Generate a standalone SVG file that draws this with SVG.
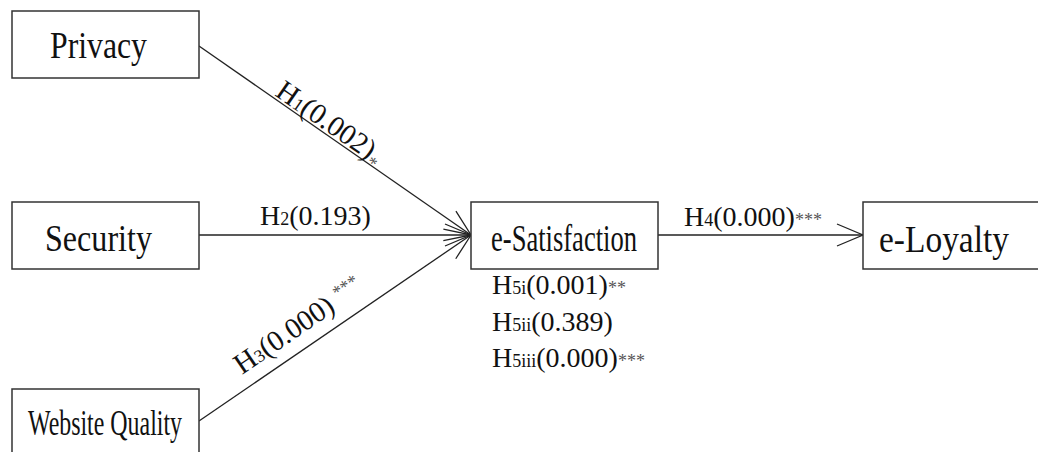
<svg xmlns="http://www.w3.org/2000/svg" width="1038" height="452" viewBox="0 0 1038 452">
<style>
.box{fill:#fff;stroke:#333;stroke-width:1.5}
.node{font-family:"Liberation Serif","Times New Roman",serif;fill:#111;font-size:38px}
.lbl{font-family:"Liberation Serif","Times New Roman",serif;fill:#111;font-size:28px}
.rot{font-size:29px}
.sub{font-size:18px}
.ast{font-size:18px;fill:#555}
.edge{stroke:#222;stroke-width:1.3;fill:none}
</style>
<defs>
<marker id="arr" markerUnits="userSpaceOnUse" markerWidth="40" markerHeight="30" viewBox="-30 -15 32 30" refX="0" refY="0" orient="auto">
<path d="M-26,-11 L0,0 L-26,11" fill="none" stroke="#222" stroke-width="1.3"/>
</marker>
</defs>
<rect width="1038" height="452" fill="#fff"/>
<g id="connectors">
<line class="edge" x1="199" y1="46" x2="471" y2="235" marker-end="url(#arr)"/>
<line class="edge" x1="199" y1="235" x2="471" y2="235" marker-end="url(#arr)"/>
<line class="edge" x1="199" y1="421" x2="471" y2="235" marker-end="url(#arr)"/>
<line class="edge" x1="658" y1="235" x2="863" y2="235" marker-end="url(#arr)"/>
<text class="lbl rot" transform="translate(274,95) rotate(34.79)">H<tspan class="sub">1</tspan>(0.002)<tspan class="ast" dy="6">*</tspan></text>
<text class="lbl" x="260" y="225">H<tspan class="sub">2</tspan>(0.193)</text>
<text class="lbl rot" transform="translate(242,375) rotate(-34.37)">H<tspan class="sub">3</tspan>(0.000) <tspan class="ast" dy="-9">***</tspan></text>
<text class="lbl" x="684" y="226">H<tspan class="sub">4</tspan>(0.000)<tspan class="ast">***</tspan></text>
</g>
<g id="privacy">
<rect class="box" x="12" y="11" width="187" height="67"/>
<text class="node" x="50" y="58" textLength="97" lengthAdjust="spacingAndGlyphs">Privacy</text>
</g>
<g id="security">
<rect class="box" x="12" y="202" width="187" height="67"/>
<text class="node" x="45" y="251" textLength="107" lengthAdjust="spacingAndGlyphs">Security</text>
</g>
<g id="website-quality">
<rect class="box" x="12" y="389" width="187" height="80"/>
<text class="node" x="28" y="435" style="font-size:35px" textLength="154" lengthAdjust="spacingAndGlyphs">Website Quality</text>
</g>
<g id="e-satisfaction">
<rect class="box" x="471" y="202" width="187" height="67"/>
<text class="node" x="491" y="251" textLength="146" lengthAdjust="spacingAndGlyphs">e-Satisfaction</text>
<text class="lbl" x="492" y="294">H<tspan class="sub">5i</tspan>(0.001)<tspan class="ast">**</tspan></text>
<text class="lbl" x="492" y="331">H<tspan class="sub">5ii</tspan>(0.389)</text>
<text class="lbl" x="492" y="367">H<tspan class="sub">5iii</tspan>(0.000)<tspan class="ast">***</tspan></text>
</g>
<g id="e-loyalty">
<rect class="box" x="863" y="202" width="190" height="67"/>
<text class="node" x="879" y="252" textLength="130" lengthAdjust="spacingAndGlyphs">e-Loyalty</text>
</g>
</svg>
